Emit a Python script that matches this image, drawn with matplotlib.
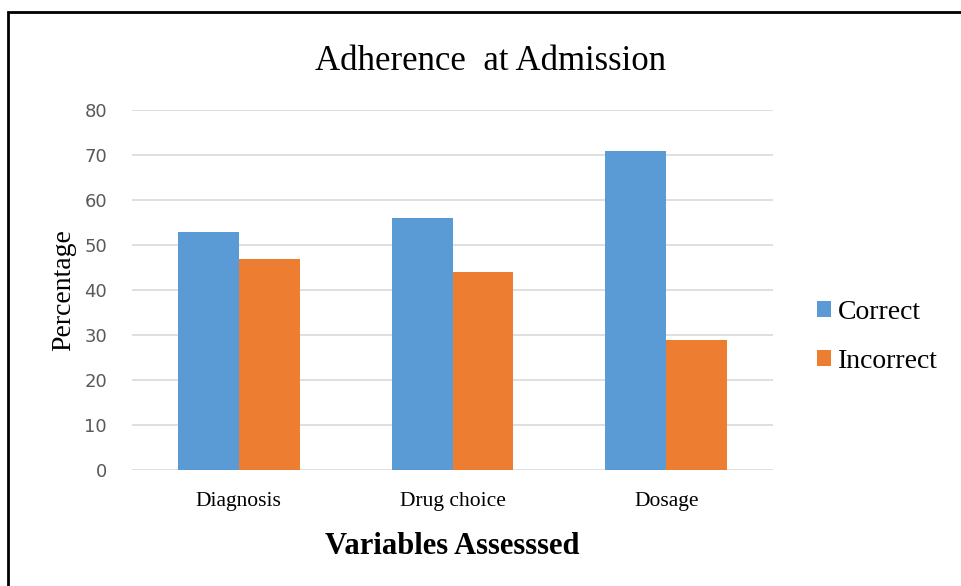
import matplotlib.pyplot as plt
import numpy as np
from matplotlib.patches import Rectangle

# Data
categories = ['Diagnosis', 'Drug choice', 'Dosage']
correct = [53, 56, 71]
incorrect = [47, 44, 29]
y_ticks = [0, 10, 20, 30, 40, 50, 60, 70, 80]

serif = 'Liberation Serif'
blue = '#5B9BD5'
orange = '#ED7D31'

fig = plt.figure(figsize=(9.61, 5.86), dpi=100)
ax = fig.add_axes([0.1374, 0.198, 0.667, 0.614])

x = np.arange(len(categories))
w = 0.285
ax.bar(x - w / 2, correct, w, color=blue, label='Correct', zorder=3)
ax.bar(x + w / 2, incorrect, w, color=orange, label='Incorrect', zorder=3)

ax.set_xlim(-0.5, 2.5)
ax.set_ylim(0, 80)
ax.set_yticks(y_ticks)
ax.set_xticks(x)
ax.set_xticklabels(categories, fontfamily=serif, fontsize=15.5)
ax.tick_params(axis='y', length=0, labelsize=13, labelcolor='#595959', pad=18)
ax.tick_params(axis='x', length=0, pad=16)
ax.grid(axis='y', color='#D9D9D9', linewidth=1.2, zorder=0)
for s in ax.spines.values():
    s.set_visible(False)

ax.set_ylabel('Percentage', fontfamily=serif, fontsize=20, labelpad=6)
ax.set_xlabel('Variables Assesssed', fontfamily=serif, fontsize=22,
              fontweight='bold', labelpad=15)
fig.text(0.51, 0.895, 'Adherence  at Admission', fontfamily=serif,
         fontsize=25, ha='center', va='center')

ax.legend(loc='center left', bbox_to_anchor=(1.03, 0.37), frameon=False,
          prop={'family': serif, 'size': 20}, handlelength=0.5,
          handleheight=0.5, handletextpad=0.25, labelspacing=0.85)

# outer frame
fig.patches.append(Rectangle((8 / 961, -0.1), 1.1, 1 - 12 / 586 + 0.1,
                             transform=fig.transFigure, fill=False,
                             edgecolor='black', linewidth=2))

fig.savefig('out.png', dpi=100)
